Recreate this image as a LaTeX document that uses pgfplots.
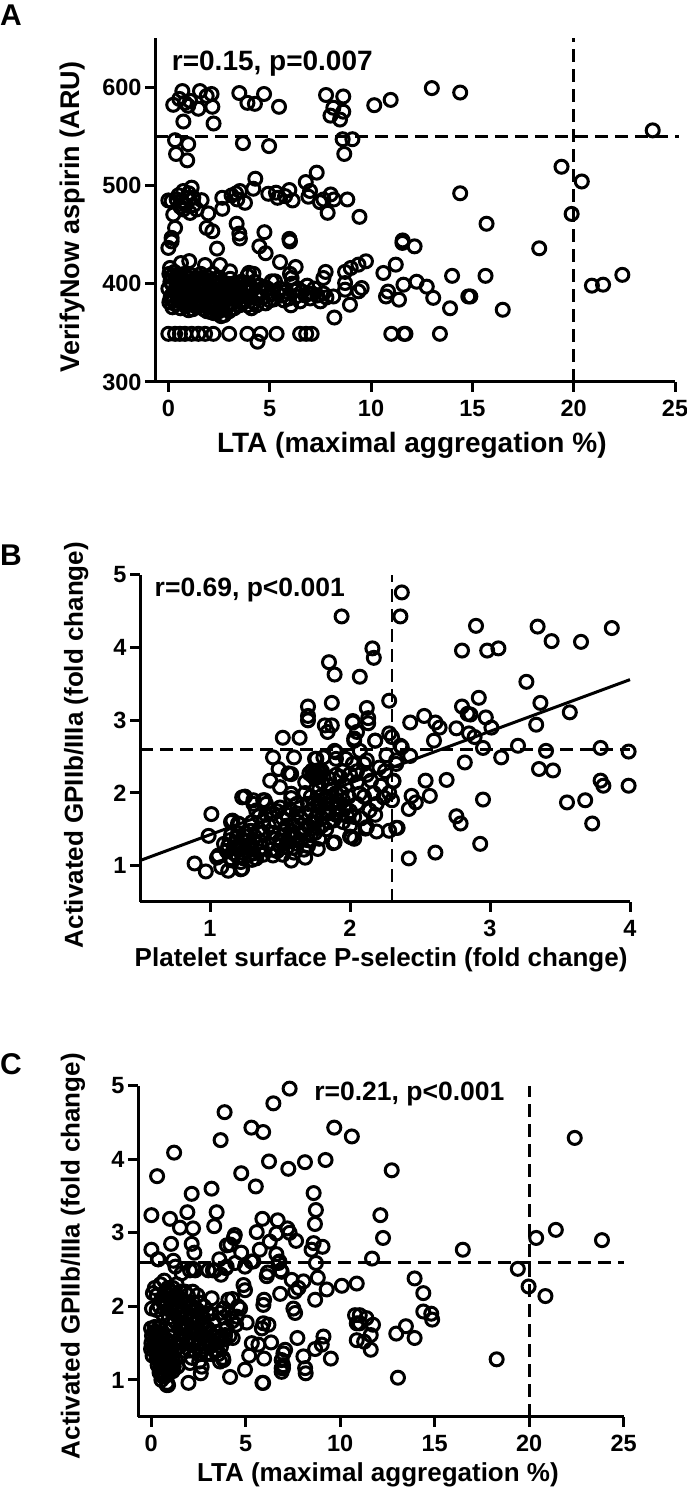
\documentclass[border=0pt]{standalone}
\usepackage{fontspec}
\setmainfont{Liberation Sans}
\usepackage{pgfplots}
\pgfplotsset{compat=1.18}

\pgfplotsset{
  panel/.style={
    scale only axis,
    anchor=south west,
    clip=false,
    axis x line*=bottom,
    axis y line*=left,
    axis line style={-,line width=3pt},
    tick style={black,line width=3pt},
    major tick length=10pt,
    tick align=outside,
    scaled ticks=false,
    minor tick num=0,
    /pgf/number format/assume math mode=true,
    /pgf/number format/1000 sep={},
    tick label style={font=\fontsize{23.5}{25}\selectfont\bfseries},
    xticklabel style={yshift=-5pt},
    label style={font=\fontsize{26}{30}\selectfont\bfseries},
  },
  pts/.style={only marks,mark=o,mark size=6.5pt,mark options={line width=3pt,draw=black,solid}},
  cut/.style={black,line width=2.8pt,dash pattern=on 13pt off 7pt,no marks},
}
\newcommand{\rtext}[2]{\fontsize{#1}{30}\selectfont\bfseries #2}

\begin{document}
\begin{tikzpicture}
\useasboundingbox (0pt,0pt) rectangle (687pt,1490pt);

\node[anchor=center,font=\fontsize{30}{30}\selectfont\bfseries] at (11pt,1475pt) {A};
\node[anchor=center,font=\fontsize{30}{30}\selectfont\bfseries] at (11pt,935pt) {B};
\node[anchor=center,font=\fontsize{30}{30}\selectfont\bfseries] at (11pt,426pt) {C};

% A: VerifyNow vs LTA
\begin{axis}[panel,
    at={(155pt,1108pt)}, width=520pt, height=344pt,
    xmin=-0.66, xmax=25, ymin=300, ymax=650,
    xtick={0,5,10,15,20,25}, ytick={300,400,500,600},
    xlabel={LTA (maximal aggregation \%)},
    ylabel={VerifyNow aspirin (ARU)},
    xlabel style={at={(axis description cs:0.494,-0.183)},anchor=center,font=\fontsize{28}{30}\selectfont\bfseries},
    ylabel style={at={(axis description cs:-0.158,0.48)},anchor=center,font=\fontsize{27}{30}\selectfont\bfseries},
]
\addplot[cut] coordinates {(-0.66,550) (25.2,550)};
\addplot[cut] coordinates {(20,300) (20,650)};
\addplot[pts] coordinates {
(.69,596)(.24,582)(.54,588)(.82,584)(1.07,586)(.98,581)(1.56,596)(1.48,578)(1.89,591)(2.13,593)
(2.17,580)(.74,565)(2.23,563)(3.5,594)(3.9,584)(4.27,583)(4.72,593)(5.46,580)(7.78,592)(8.63,590.5)
(8.14,579)(8.63,575)(8.0,571)(8.47,567)(10.16,581.6)(10.97,587)(13.0,599)(14.4,594.5)(23.9,556)
(.33,546)(.98,542)(.38,532)(.93,525.5)(3.68,543)(4.97,540)(8.6,547)(9.08,547)(8.68,532)
(19.4,519)(20.4,504)(14.4,492)(19.9,471)(15.7,461)(18.3,436)
(0.0,484.7)(.16,484)(.41,485.7)(.66,484)(.9,487.4)(.74,494.3)(1.15,497.7)(1.23,487.4)(1.64,485)
(.24,470.4)(.74,475.5)(1.07,472)(1.4,475.5)(1.97,471.5)(.33,456.8)(1.89,456.8)(2.17,453.4)
(2.66,487.4)(2.66,476.2)(3.12,489.8)(3.34,491.9)(3.4,485.7)(3.78,482.3)(3.53,494.3)(4.19,496.6)(4.29,506.8)
(4.93,491.5)(5.31,492.6)(5.39,487.4)(5.76,489.1)(5.97,495.3)(6.13,484.7)(6.78,503.4)(7.32,513)(6.99,494.3)
(6.91,488.5)(7.48,483)(7.65,485.7)(8.01,490.8)(8.17,485.7)(8.83,485.7)(7.86,472.1)(9.43,468)(3.37,461)
(3.5,451)(4.74,452.4)(5.97,445.6)(.16,446.6)(11.56,444)(.5,490)(.85,480)(1.0,492)(.6,478)(1.25,480)
(0.0,436.4)(.16,443)(2.4,435.7)(4.49,438)(4.8,431)(5.51,422)(6.28,417)(6.0,443)(3.53,446)(11.55,441.5)(12.15,438)
(.62,421)(1.03,423)(1.81,419)(2.55,419)(3.04,412.6)(.08,416)(3.98,411)(6.08,405.8)(7.76,412)(7.65,405.8)
(8.72,412)(9.0,416)(9.38,419.4)(9.75,422.8)(10.61,410.9)(11.22,419.4)(11.6,399)(5.1,402.4)(5.26,402.4)
(8.72,400.7)(8.72,393.9)(9.54,395.6)(9.38,392.2)(8.96,378.6)(8.19,365.6)(8.14,387)(10.84,392)(10.74,387)
(11.38,383.7)(12.25,402)(12.75,397)(13.07,385.6)(14,408)(13.9,375)(14.8,387)(14.9,387)(15.65,408)(16.5,373.5)
(20.9,398)(21.45,399)(22.4,409)
(0,349)(.33,349)(.57,349)(.82,349)(1.15,349)(1.48,349)(1.81,349)(2.22,349)(3,349)(3.9,349)(4.55,349)(5.34,349)
(6.5,349)(6.8,349)(7.07,349)(11,349)(11.63,349)(11.7,349)(13.4,349)(4.4,341)
(.05,410)(.1,402)(0,395)(.15,388)(.05,381)(.2,376)(.3,412)(.35,405)(.4,398)(.3,392)(.45,385)(.35,379)
(.55,408)(.6,401)(.5,394)(.65,388)(.7,381)(.6,375)(.8,410)(.85,403)(.9,396)(.75,390)(.95,384)(.85,377)
(1.1,409)(1.05,401)(1.15,393)(1.2,387)(1.1,380)(1.0,373)(1.35,406)(1.4,398)(1.3,391)(1.45,384)(1.35,377)
(1.6,410)(1.65,402)(1.55,395)(1.7,389)(1.6,382)(1.75,374)(1.9,407)(1.85,400)(2,394)(1.95,387)(2.05,380)(1.9,372)
(2.2,410)(2.25,402)(2.15,396)(2.3,390)(2.2,384)(2.35,377)(2.25,370)(2.5,405)(2.45,398)(2.55,392)(2.5,386)(2.6,380)
(2.5,372)(2.75,368)(2.8,400)(2.75,394)(2.85,388)(2.7,382)(2.9,376)(3.05,405)(3,396)(3.1,388)(3.05,381)(3.25,375)
(3.3,398)(3.35,391)(3.4,384)(3.6,402)(3.55,395)(3.7,388)(3.65,380)(3.9,408)(3.95,400)(3.85,393)(4,386)(3.9,378)
(4.1,375)(4.2,410)(4.25,402)(4.15,395)(4.3,388)(4.2,381)(4.5,398)(4.55,392)(4.65,386)(4.8,380)(4.9,395)(5.05,389)
(5.2,384)(5.5,395)(5.6,388)(5.8,392)(5.95,385)(6.05,378)(6.1,400)(6.2,393)(6,410)(6.3,387)(6.5,382)(6.6,392)
(6.85,398)(6.9,390)(7,385)(7.2,395)(7.35,388)(7.5,382)(7.65,390)(7.8,386)
(.15,407)(.2,399)(.1,385)(.25,383)(.45,409)(.5,402)(.45,391)(.55,382)(.7,405)(.75,397)(.6,391)(.85,387)(.95,406)(1,398)
(1.05,388)(.95,379)(1.25,403)(1.25,395)(1.3,383)(1.2,374)(1.5,405)(1.5,389)(1.45,379)(1.75,405)(1.75,397)(1.8,384)(1.7,378)
(2.05,403)(2.1,390)(2,376)(2.1,371)(2.35,405)(2.35,394)(2.4,385)(2.4,372)(2.65,401)(2.65,390)(2.65,374)(2.6,367)(2.95,392)
(2.9,384)(3,372)(3.2,394)(3.2,385)(3.15,380)(3.45,400)(3.5,378)(3.75,397)(3.8,383)(4.05,392)(4.4,385)(4.35,378)(4.7,396)
(5,383)(5.4,390)(5.7,383)(6.4,395)(6.75,388)(7.1,390)
};
\node[anchor=west] at (axis cs:0.0,624) {\rtext{28}{r=0.15, p=0.007}};
\end{axis}

% B: GPIIb/IIIa vs P-selectin
\begin{axis}[panel,
    at={(140pt,588pt)}, width=490pt, height=327pt,
    xmin=0.5, xmax=4, ymin=0.5, ymax=5,
    xtick={1,2,3,4}, ytick={1,2,3,4,5},
    xlabel={Platelet surface P-selectin (fold change)},
    ylabel={Activated GPIIb/IIIa (fold change)},
    xlabel style={at={(axis description cs:0.492,-0.177)},anchor=center},
    ylabel style={at={(axis description cs:-0.13,0.48)},anchor=center},
]
\addplot[cut] coordinates {(0.5,2.6) (4,2.6)};
\addplot[cut] coordinates {(2.3,0.5) (2.3,5)};
\addplot[black,line width=3pt,no marks] coordinates {(0.5,1.07) (4,3.56)};
\addplot[pts] coordinates {
(2.37,4.76)(2.36,4.43)(1.94,4.43)(2.9,4.3)(3.34,4.29)(3.44,4.09)(3.65,4.08)(3.87,4.27)(2.8,3.96)(2.98,3.96)
(3.06,3.99)(2.16,3.99)(2.17,3.86)(1.85,3.8)(1.89,3.63)(2.07,3.6)(3.26,3.53)(2.28,3.27)(3.36,3.24)(2.92,3.31)
(2.8,3.19)(1.7,3.19)(1.87,3.24)(2.12,3.17)(3.57,3.11)(2.53,3.06)(2.84,3.09)(2.86,3.08)(1.7,3.06)(1.7,3)
(2.97,3.04)(2.43,2.97)(2.61,2.97)(2.64,2.9)(3.01,2.9)(3.33,2.94)(2.02,2.99)(2.13,3.03)(2.13,2.96)(1.87,2.93)
(1.82,2.93)(1.84,2.84)(2.05,2.84)(2.28,2.82)(2.3,2.77)(1.52,2.76)(1.64,2.76)(2.18,2.72)(2.03,2.72)(2.36,2.65)
(2.76,2.89)(2.85,2.82)(2.89,2.77)(2.6,2.72)(3.2,2.65)(2.95,2.62)(3.4,2.58)(3.79,2.62)(3.99,2.57)(1.89,2.58)
(1.45,2.49)(1.6,2.49)(1.75,2.47)(3.08,2.49)(2.82,2.42)(2.43,2.51)
(3.35,2.33)(3.45,2.31)(3.79,2.17)(3.81,2.1)(3.99,2.1)(3.55,1.87)(3.68,1.9)(3.73,1.58)(2.95,1.91)(2.69,2.18)
(2.54,2.17)(2.57,1.96)(2.44,1.96)(2.47,1.87)(2.42,1.78)(2.76,1.68)(2.79,1.58)(2.93,1.3)(2.61,1.18)(2.42,1.1)
(2.33,1.52)(2.28,1.48)(2.3,1.9)(2.31,2.16)(2.33,2.4)(2.19,1.47)(2.11,1.51)(2.03,1.37)(2,1.4)(1.88,1.31)(1.77,1.23)
(1.78,1.37)(1.01,1.71)(.99,1.41)(.89,1.03)(.97,.92)(1.23,1.94)(1.31,1.85)(1.39,1.9)(1.15,1.6)(1.2,1.58)(1.05,1.11)
(1.08,.98)(1.13,.93)(1.23,.96)(1.58,1.07)(1.68,1.11)(1.43,2.17)(1.49,2.33)(1.56,2.27)(1.5,2.08)(1.58,1.99)
(1.73,2.24)(1.77,2.24)(1.75,2.2)(1.75,2.28)(1.71,2.27)(1.79,2.27)(1.73,2.31)(1.77,2.31)
(1.76,2.47)(1.81,2.49)(1.9,2.56)(1.9,2.47)(1.97,2.47)(2.07,2.58)(2.12,2.45)(2.18,2.72)(2.26,2.52)(2.33,2.45)(2.37,2.63)
(2.03,2.75)(2.02,2.97)(1.58,2.26)(1.25,1.95)(1.31,1.9)(1.33,1.76)(1.38,1.9)(1.16,1.62)(1.21,1.57)(1.06,1.14)
(1.22,.95)(1.45,1.14)(1.89,1.32)(2.01,1.39)(2.03,1.67)(2.12,1.53)(2.34,1.52)(2.31,2.17)(2.21,2.35)(2.15,2.17)(2.07,1.99)
(2.14,1.76)(2.19,1.85)(2.24,1.94)(2,2.26)(1.93,2.22)(2.02,2.4)
(1.1,1.3)(1.12,1.2)(1.15,1.1)(1.15,1.42)(1.18,1.32)(1.2,1.22)(1.2,1.12)(1.22,1.05)(1.25,1.45)(1.25,1.35)(1.27,1.25)
(1.28,1.15)(1.3,1.08)(1.32,1.4)(1.33,1.3)(1.35,1.2)(1.38,1.15)(1.17,1.25)(1.23,1.18)(1.3,1.22)(1.35,1.5)(1.38,1.62)
(1.42,1.3)(1.45,1.45)(1.47,1.6)(1.48,1.2)(1.5,1.35)(1.52,1.15)(1.53,1.5)(1.55,1.7)(1.55,1.25)(1.57,1.4)(1.6,1.55)
(1.6,1.18)(1.62,1.3)(1.62,1.85)(1.65,1.45)(1.65,1.65)(1.67,1.22)(1.7,1.35)(1.7,1.55)(1.72,1.75)(1.72,1.95)(1.75,1.45)
(1.75,1.65)(1.77,1.85)(1.78,2.05)(1.8,1.55)(1.82,1.75)(1.83,1.95)(1.85,2.1)(1.85,1.6)(1.87,1.85)(1.9,1.7)(1.9,2)
(1.92,1.8)(1.95,1.6)(1.95,1.9)(1.97,2.1)(2,1.75)(2,1.55)(1.5,1.8)(1.45,1.72)(1.4,1.85)(1.35,1.68)(1.3,1.6)(1.58,1.93)
(1.68,2)(1.8,2.15)(1.9,2.25)(2.05,1.85)(2.08,1.65)(2.1,1.95)(2.12,2.25)(2.17,2)(2.18,1.7)(2.22,2.1)(2.25,2.3)(2.28,2)(2.1,2.4)
(1.14,1.35)(1.13,1.27)(1.17,1.17)(1.19,1.38)(1.22,1.28)(1.24,1.1)(1.26,1.4)(1.29,1.3)(1.31,1.17)(1.33,1.1)(1.36,1.33)(1.37,1.25)
(1.2,1.45)(1.29,1.48)(1.16,1.07)(1.26,1.2)(1.44,1.22)(1.47,1.37)(1.5,1.27)(1.53,1.42)(1.55,1.33)(1.58,1.48)(1.6,1.25)(1.6,1.38)
(1.63,1.6)(1.65,1.35)(1.68,1.5)(1.68,1.72)(1.7,1.27)(1.72,1.42)(1.74,1.58)(1.74,1.85)(1.77,1.52)(1.77,1.75)(1.79,1.95)(1.8,1.65)
(1.82,1.85)(1.83,1.5)(1.85,1.72)(1.86,1.95)(1.87,2.05)(1.88,1.62)(1.9,1.8)(1.91,1.9)(1.93,1.7)(1.94,2)(1.96,1.82)(1.98,1.68)
(1.99,1.95)(1.55,1.55)(1.52,1.65)(1.48,1.75)(1.57,1.78)(1.62,1.72)(1.4,1.7)(1.42,1.55)(1.38,1.45)(1.85,2.2)(1.95,2.3)(2.05,2.15)
(2.05,2.3)(1.7,1.85)(1.8,2.3)(1.68,2.15)
};
\node[anchor=west] at (axis cs:0.58,4.79) {\rtext{26.5}{r=0.69, p<0.001}};
\end{axis}

% C: GPIIb/IIIa vs LTA
\begin{axis}[panel,
    at={(138pt,73.3pt)}, width=485.7pt, height=331pt,
    xmin=-0.69, xmax=25, ymin=0.5, ymax=5,
    xtick={0,5,10,15,20,25}, ytick={1,2,3,4,5},
    xlabel={LTA (maximal aggregation \%)},
    ylabel={Activated GPIIb/IIIa (fold change)},
    xlabel style={at={(axis description cs:0.494,-0.176)},anchor=center},
    ylabel style={at={(axis description cs:-0.134,0.485)},anchor=center},
]
\addplot[cut] coordinates {(-0.69,2.6) (25,2.6)};
\addplot[cut] coordinates {(20,0.5) (20,5)};
\addplot[pts] coordinates {
(7.33,4.96)(6.47,4.76)(3.89,4.64)(5.31,4.43)(5.93,4.37)(3.68,4.26)(9.69,4.43)(10.62,4.31)(22.41,4.29)(1.22,4.09)
(.32,3.77)(6.24,3.97)(7.26,3.87)(8.14,3.96)(9.23,3.99)(12.73,3.85)(4.77,3.81)(3.2,3.6)(5.54,3.63)(2.15,3.53)
(8.6,3.54)(8.72,3.31)(1.92,3.28)(.02,3.24)(3.47,3.28)(12.13,3.24)(1,3.19)(5.89,3.19)(6.7,3.17)(1.53,3.07)
(2.22,3.06)(3.34,3.09)(8.67,3.12)(7.21,3.06)(7.33,3)(5.59,3.01)(21.41,3.04)(20.37,2.93)(23.85,2.9)(12.27,2.93)
(4.43,2.97)(4.38,2.93)(4.19,2.84)(4.01,2.83)(7.67,2.89)(6.63,2.99)(6.28,2.88)(1.06,2.85)(2.15,2.85)(2.29,2.73)
(.02,2.77)(.36,2.64)(1.18,2.62)(3.61,2.64)(4.77,2.73)(5.75,2.77)(6.63,2.71)(8.49,2.77)(9.07,2.81)(8.6,2.86)
(8.72,2.59)(11.69,2.65)(16.49,2.77)(19.4,2.51)(6.79,2.61)(5.31,2.61)(1.29,2.54)(2.22,2.51)(3.27,2.49)(3.96,2.52)
(6.17,2.46)(6.86,2.49)
(.39,2.64)(1.62,2.45)(2.06,2.49)(2.33,2.49)(3.03,2.49)(3.39,2.49)(3.7,2.43)(4,2.54)(4.45,2.59)(4.97,2.54)(5.41,2.61)
(6.12,2.41)(6.74,2.59)(6.91,2.47)(7.44,2.36)(8.06,2.34)(7.8,2.25)(7.62,2.2)(8.82,2.39)(9.29,2.23)(10.09,2.28)
(10.88,2.31)(8.68,2.09)(6.83,2.17)(7.53,1.97)(7.62,1.91)(5.98,2.09)(5.94,2.02)(4.89,2.29)(4.97,2.22)(3.21,2.11)
(4.09,2.09)(3.83,1.97)(3.65,1.91)(4.71,1.97)(4.53,1.86)(5.06,1.78)(5.94,1.77)(6.21,1.75)(5.86,1.7)(7.74,1.57)
(5.33,1.5)(5.68,1.48)(6.35,1.51)(9.12,1.59)(9.03,1.48)(8.68,1.42)(9.51,1.29)(8.06,1.32)(7.09,1.41)(7,1.36)(6.91,1.27)
(5.98,1.29)(5.19,1.33)(4.97,1.14)(4.18,1.04)(5.89,.96)(1.98,.96)(.83,.93)(6.91,1.16)(6.91,1.11)(8.15,1.16)(8.18,1.09)
(4.32,1.57)(3.92,1.61)(3.83,1.27)(3.65,1.25)(2.68,1.18)(2.63,1.09)(2.06,1.23)(10.79,1.88)(10.88,1.77)(10.88,1.54)
(13.94,2.38)(14.4,2.18)(14.4,1.93)(14.82,1.9)(14.87,1.82)(13.48,1.73)(12.97,1.63)(13.94,1.57)(13.06,1.03)(18.28,1.28)
(19.97,2.27)(20.86,2.14)(11.04,1.88)(11.39,1.84)(11.74,1.75)(11.62,1.61)(11.62,1.41)(11.04,1.77)(11.27,1.52)
(6.98,1.16)(6.98,1.2)(.85,.96)(.9,.93)(5.93,.96)
(0,1.7)(.05,1.6)(.02,1.5)(0,1.42)(.08,1.33)(.2,1.72)(.25,1.62)(.18,1.52)(.22,1.42)(.3,1.3)(.35,1.2)(.4,1.7)(.45,1.6)
(.42,1.5)(.5,1.4)(.48,1.28)(.5,1.18)(.55,1.12)(.6,1.6)(.65,1.5)(.62,1.38)(.7,1.25)(.72,1.15)(.75,1.05)(.8,1.55)(.85,1.42)
(.82,1.3)(.9,1.2)(.95,1.1)(1,1.5)(1.05,1.35)(1.1,1.22)(1.15,1.12)(1.2,1.6)(1.25,1.4)(1.3,1.28)(1.35,1.5)(1.4,1.18)(1.5,1.45)
(.1,2.18)(.2,2.25)(.05,1.97)(.3,2.15)(.5,2.3)(.7,2.35)(.55,2.1)(.75,2.2)(.8,2)(.9,2.25)(.95,1.85)(1,2.1)(1.1,1.95)(1.15,2.25)
(1.2,2.1)(1.25,1.8)(1.35,2.3)(1.4,2)(1.45,1.85)(1.5,1.7)(1.55,2.2)(1.6,2.1)(1.65,1.95)(1.7,1.75)(1.75,1.6)(1.8,2.2)(1.85,2.05)
(1.9,1.9)(1.95,1.75)(2,1.55)(2.05,1.4)(2.1,2)(2.15,1.85)(2.2,1.7)(2.25,1.55)(2.3,1.4)(2.35,1.95)(2.4,1.8)(2.45,2.15)(2.5,1.65)
(2.55,1.5)(2.6,1.35)(2.65,1.9)(2.7,1.75)(2.75,1.6)(2.85,1.45)(2.9,1.35)(3,1.7)(3.05,1.55)(3.1,1.45)(3.2,1.35)(3.3,1.6)(3.4,1.5)
(3.5,1.4)(3.6,1.55)(3.7,1.45)(3.8,1.3)(3.3,1.8)(3.15,1.9)(3.85,1.85)(4,1.7)(4.15,1.6)(4.1,1.9)(4.3,1.8)(4.5,1.75)(4.6,2)(4.3,2.1)
(.15,1.65)(.12,1.45)(.28,1.55)(.32,1.45)(.35,1.65)(.38,1.35)(.55,1.55)(.57,1.33)(.6,1.22)(.65,1.1)(.68,1.42)(.75,1.35)(.78,1.18)
(.85,1.25)(.9,1.08)(.92,1.38)(1,1.25)(1,1.15)(1.1,1.42)(1.15,1.3)(1.2,1.18)(.45,1.1)(.55,1)(.6,1.05)
(.3,1.95)(.45,2)(.6,1.9)(.7,2.05)(.85,2.15)(1,1.95)(1.05,2.2)(1.15,1.75)(1.3,1.95)(1.35,2.15)(1.45,1.55)(1.5,2)(1.6,1.75)(1.65,1.55)
(1.7,1.4)(1.75,2.05)(1.8,1.85)(1.85,1.7)(1.9,1.5)(1.95,2.15)(2,2)(2.05,1.8)(2.1,1.65)(2.15,1.5)(2.15,1.3)(2.2,2.2)(2.25,2.05)(2.3,1.85)
(2.35,1.7)(2.4,1.45)(2.45,1.95)(2.5,1.8)(2.55,1.25)(2.6,2.05)(2.65,1.65)(2.7,1.4)(2.75,1.85)(2.8,2)(2.85,1.7)(2.95,1.55)(3,1.9)(3.1,1.65)
(3.25,1.5)(3.35,1.4)(3.45,1.65)(3.55,1.35)(3.75,1.6)(3.9,1.55)
};
\node[anchor=west] at (axis cs:8.45,4.89) {\rtext{26.5}{r=0.21, p<0.001}};
\end{axis}
\end{tikzpicture}
\end{document}
